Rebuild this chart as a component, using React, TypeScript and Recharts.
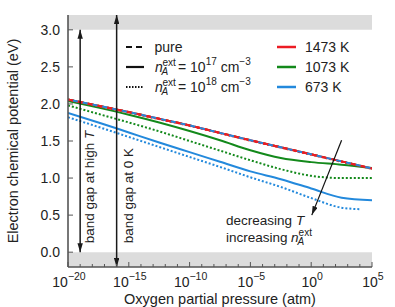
import React from 'react';
import { LineChart, Line, XAxis, YAxis, ReferenceArea, ReferenceLine, ReferenceDot, Legend } from 'recharts';

// log10 of the oxygen partial pressure (atm)
const logPO2 = [-20, -17.5, -15, -12.5, -10, -7.5, -5, -2.5, 0, 2.5, 5];
const logPO2Short = [-20, -17.5, -15, -12.5, -10, -7.5, -5, -2.5, 0, 2.5, 4];

// electron chemical potential (eV)
const muPure = [2.06, 1.975, 1.89, 1.8, 1.71, 1.61, 1.51, 1.415, 1.32, 1.225, 1.13];
const mu1473Low = [2.06, 1.975, 1.89, 1.8, 1.71, 1.61, 1.51, 1.415, 1.32, 1.225, 1.13];
const mu1473High = [2.055, 1.97, 1.885, 1.795, 1.705, 1.605, 1.505, 1.41, 1.315, 1.22, 1.125];
const mu1073Low = [2.04, 1.95, 1.855, 1.75, 1.635, 1.51, 1.375, 1.27, 1.215, 1.18, 1.135];
const mu1073High = [1.98, 1.865, 1.75, 1.63, 1.5, 1.37, 1.24, 1.12, 1.03, 1.0, 1.0];
const mu673Low = [1.88, 1.75, 1.615, 1.48, 1.35, 1.22, 1.09, 0.985, 0.86, 0.735, 0.7];
const mu673High = [1.82, 1.69, 1.555, 1.42, 1.285, 1.15, 1.01, 0.88, 0.73, 0.6, 0.58];

const temperatures = ['1473 K', '1073 K', '673 K'];
const dopingExponents = [17, 18];

const xMajor = [-20, -15, -10, -5, 0, 5];
const xTicks = Array.from({ length: 26 }, (_, i) => i - 20);
const yTicks = [0, 0.5, 1, 1.5, 2, 2.5, 3];

// band gap arrows (eV) and trend arrow
const gapHighT = { x: -19, from: 0, to: 3.0 };
const gap0K = { x: -16, from: -0.2, to: 3.2 };
const trendArrow = [{ x: 2.5, y: 1.51 }, { x: 0.05, y: 0.5 }];

const RED = '#ec1c24';
const GREEN = '#13891b';
const BLUE = '#2389dc';
const FRAME = '#555';
const FONT = '"Liberation Sans", Arial, Helvetica, sans-serif';
const colors = [RED, GREEN, BLUE];

const pts = (xs: number[], ys: number[]) => xs.map((x, i) => ({ x, y: ys[i] }));

const BottomTick = ({ x, y, payload }: any) => {
  const v = payload.value;
  const major = xMajor.includes(v);
  return (
    <g>
      <line x1={x} y1={y} x2={x} y2={y - (major ? 5 : 3)} stroke={FRAME} />
      {major && (
        <text x={x + 1} y={y + 20} textAnchor="middle" fontSize={14} fill="#222" fontFamily={FONT}>
          10<tspan dy={-7.5} fontSize={10.5}>{v < 0 ? `\u2212${-v}` : v}</tspan>
        </text>
      )}
    </g>
  );
};

const TopTick = ({ x, y, payload }: any) => (
  <line x1={x} y1={y} x2={x} y2={y + (xMajor.includes(payload.value) ? 5 : 3)} stroke={FRAME} />
);

const LeftTick = ({ x, y, payload }: any) => (
  <g>
    <line x1={x} y1={y} x2={x + 5} y2={y} stroke={FRAME} />
    <text x={x - 8} y={y + 5} textAnchor="end" fontSize={14} fill="#222" fontFamily={FONT}>
      {payload.value.toFixed(1)}
    </text>
  </g>
);

const RightTick = ({ x, y }: any) => <line x1={x} y1={y} x2={x - 5} y2={y} stroke={FRAME} />;

// n_A^ext with stacked super/subscript, as one text element
const NA = ({ x, y }: { x: number; y: number }) => (
  <text x={x} y={y}>
    <tspan fontStyle="italic">n</tspan>
    <tspan x={x + 7.5} dy={-6.5} fontSize={10}>ext</tspan>
    <tspan x={x + 6.5} dy={9.5} fontSize={10} fontStyle="italic">A</tspan>
  </text>
);

const LegendBox = () => {
  const rows = [17, 37, 57];
  const dashes = ['6 4', undefined, '1.5 1.5'];
  return (
    <svg width={260} height={72} style={{ display: 'block', overflow: 'visible' }}>
      <g fontFamily={FONT} fontSize={14} fill="#222">
        {rows.map((cy, i) => (
          <line key={'s' + i} x1={6} x2={24} y1={cy} y2={cy} stroke="#111" strokeWidth={2.2} strokeDasharray={dashes[i]} />
        ))}
        <text x={34.5} y={rows[0] + 5}>pure</text>
        {dopingExponents.map((e, i) => (
          <g key={e}>
            <NA x={35} y={rows[i + 1] + 5} />
            <text x={58} y={rows[i + 1] + 5}>
              = 10<tspan dy={-7} fontSize={10}>{e}</tspan>
              <tspan dy={7}> cm</tspan>
              <tspan dy={-7} fontSize={10}>{'\u22123'}</tspan>
            </text>
          </g>
        ))}
        {temperatures.map((t, i) => (
          <g key={t}>
            <line x1={157} x2={176} y1={rows[i]} y2={rows[i]} stroke={colors[i]} strokeWidth={2.5} />
            <text x={185} y={rows[i] + 5}>{t}</text>
          </g>
        ))}
      </g>
    </svg>
  );
};

const VerticalNote = (text: React.ReactNode, dx: number) => ({ cx, cy }: any) => (
  <text
    x={cx + dx}
    y={cy}
    transform={`rotate(-90 ${cx + dx} ${cy})`}
    fontSize={13.5}
    fill="#222"
    fontFamily={FONT}
  >
    {text}
  </text>
);

const TrendNote = ({ cx, cy }: any) => (
  <g fontFamily={FONT} fontSize={13.5} fill="#222">
    <text x={cx} y={cy}>
      decreasing <tspan fontStyle="italic">T</tspan>
    </text>
    <text x={cx} y={cy + 17}>increasing</text>
    <NA x={cx + 65} y={cy + 17} />
  </g>
);

export default function App() {
  const lineBase = { type: 'monotone' as const, dataKey: 'y', dot: false, isAnimationActive: false, activeDot: false };
  return (
    <div style={{ position: 'absolute', left: 0, top: 0, background: '#fff' }}>
      <LineChart width={395} height={307} margin={{ top: 15, right: 23, bottom: 0, left: 0 }}>
        <defs>
          <marker id="ah" viewBox="0 0 10 6" refX="10" refY="3" markerWidth="9" markerHeight="5.5" orient="auto-start-reverse" markerUnits="userSpaceOnUse">
            <path d="M0,0 L10,3 L0,6 z" fill="#1a1a1a" />
          </marker>
        </defs>
        <XAxis
          dataKey="x"
          type="number"
          domain={[-20, 5]}
          allowDataOverflow
          ticks={xTicks}
          interval={0}
          height={40}
          tickSize={0}
          tickMargin={0}
          tickLine={false}
          tick={<BottomTick />}
          axisLine={{ stroke: FRAME, strokeWidth: 1.6 }}
          label={{
            content: ({ viewBox }: any) => (
              <text x={viewBox.x + viewBox.width / 2} y={304} textAnchor="middle" fontSize={14.5} fill="#222" fontFamily={FONT}>
                Oxygen partial pressure (atm)
              </text>
            ),
          }}
        />
        <XAxis
          xAxisId="top"
          orientation="top"
          dataKey="x"
          type="number"
          domain={[-20, 5]}
          allowDataOverflow
          ticks={xTicks}
          interval={0}
          height={0}
          tickSize={0}
          tickMargin={0}
          tickLine={false}
          tick={<TopTick />}
          axisLine={{ stroke: FRAME, strokeWidth: 1.6 }}
        />
        <YAxis
          type="number"
          domain={[-0.2, 3.2]}
          allowDataOverflow
          ticks={yTicks}
          interval={0}
          width={68}
          tickSize={0}
          tickMargin={0}
          tickLine={false}
          tick={<LeftTick />}
          axisLine={{ stroke: FRAME, strokeWidth: 1.6 }}
          label={{
            content: ({ viewBox }: any) => {
              const cy = viewBox.y + viewBox.height / 2;
              return (
                <text x={17.5} y={cy} transform={`rotate(-90 17.5 ${cy})`} textAnchor="middle" fontSize={14.5} fill="#222" fontFamily={FONT}>
                  Electron chemical potential (eV)
                </text>
              );
            },
          }}
        />
        <YAxis
          yAxisId="right"
          orientation="right"
          type="number"
          domain={[-0.2, 3.2]}
          allowDataOverflow
          ticks={yTicks}
          interval={0}
          width={0}
          tickSize={0}
          tickMargin={0}
          tickLine={false}
          tick={<RightTick />}
          axisLine={{ stroke: FRAME, strokeWidth: 1.6 }}
        />

        <ReferenceArea y1={3.0} y2={3.2} fill="#dcdcdc" fillOpacity={1} stroke="none" ifOverflow="hidden" />
        <ReferenceArea y1={-0.2} y2={0} fill="#dcdcdc" fillOpacity={1} stroke="none" ifOverflow="hidden" />

        <Line {...lineBase} data={pts(logPO2Short, mu673High)} stroke={BLUE} strokeWidth={2} strokeDasharray="2 2" />
        <Line {...lineBase} data={pts(logPO2, mu673Low)} stroke={BLUE} strokeWidth={2} />
        <Line {...lineBase} data={pts(logPO2, mu1073High)} stroke={GREEN} strokeWidth={2} strokeDasharray="2 2" />
        <Line {...lineBase} data={pts(logPO2, mu1073Low)} stroke={GREEN} strokeWidth={2} />
        <Line {...lineBase} data={pts(logPO2, muPure)} stroke={GREEN} strokeWidth={2} strokeDasharray="6 4" />
        <Line {...lineBase} data={pts(logPO2, mu1473Low)} stroke={RED} strokeWidth={2} />
        <Line {...lineBase} data={pts(logPO2, mu1473High)} stroke={RED} strokeWidth={2} strokeDasharray="2 2" />
        <Line {...lineBase} data={pts(logPO2, muPure)} stroke={RED} strokeWidth={2} strokeDasharray="6 4" />
        <Line {...lineBase} data={pts(logPO2, muPure)} stroke={BLUE} strokeWidth={2} strokeDasharray="5 5" strokeDashoffset={5} />

        <ReferenceLine
          segment={[{ x: gapHighT.x, y: gapHighT.from }, { x: gapHighT.x, y: gapHighT.to }]}
          stroke="#1a1a1a"
          strokeWidth={1.5}
          markerStart="url(#ah)"
          markerEnd="url(#ah)"
          ifOverflow="visible"
        />
        <ReferenceLine
          segment={[{ x: gap0K.x, y: gap0K.from }, { x: gap0K.x, y: gap0K.to }]}
          stroke="#1a1a1a"
          strokeWidth={1.5}
          markerStart="url(#ah)"
          markerEnd="url(#ah)"
          ifOverflow="visible"
        />
        <ReferenceLine segment={trendArrow} stroke="#111" strokeWidth={1.2} markerEnd="url(#ah)" ifOverflow="visible" />

        <ReferenceDot
          x={gapHighT.x}
          y={0.12}
          r={0}
          ifOverflow="visible"
          shape={VerticalNote(<>band gap at high <tspan fontStyle="italic">T</tspan></>, 14)}
        />
        <ReferenceDot x={gap0K.x} y={0.12} r={0} ifOverflow="visible" shape={VerticalNote('band gap at 0 K', 16)} />
        <ReferenceDot x={-7} y={0.36} r={0} ifOverflow="visible" shape={TrendNote} />

        <Legend
          layout="horizontal"
          verticalAlign="middle"
          align="center"
          content={() => <LegendBox />}
          wrapperStyle={{ left: 120, top: 30, width: 260, height: 72 }}
        />
      </LineChart>
    </div>
  );
}
